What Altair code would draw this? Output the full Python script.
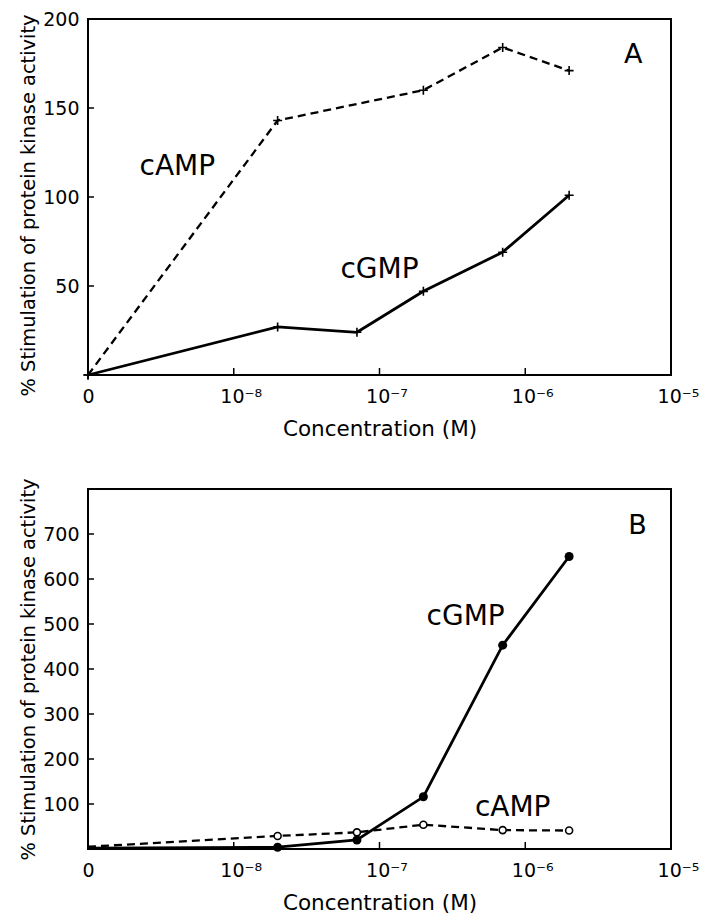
import altair as alt
import pandas as pd

FONT = "DejaVu Sans"

# ---- data ----
conc_all = [0, 2e-8, 7e-8, 2e-7, 7e-7, 2e-6]          # M
a_camp_conc = [0, 2e-8, 2e-7, 7e-7, 2e-6]
a_camp = [0, 143, 160, 184, 171]                     # panel A, cAMP
a_cgmp = [0, 27, 24, 47, 69, 101]                    # panel A, cGMP
b_cgmp = [2, 4, 20, 116, 453, 650]                   # panel B, cGMP
b_camp = [5, 29, 37, 54, 42, 41]                     # panel B, cAMP

x_tick_values = [1e-9, 1e-8, 1e-7, 1e-6, 1e-5]
x_tick_labels = ["0", "10\u207b\u2078", "10\u207b\u2077", "10\u207b\u2076", "10\u207b\u2075"]
a_y_ticks = [50, 100, 150, 200]
b_y_ticks = [100, 200, 300, 400, 500, 600, 700]

a_notes = pd.DataFrame({"label": ["cAMP", "cGMP", "A"],
                        "conc": [4.1e-9, 1.0e-7, 5.5e-6],
                        "val": [117, 59, 180],
                        "size": [28, 28, 27]})
b_notes = pd.DataFrame({"label": ["cGMP", "cAMP", "B"],
                        "conc": [3.9e-7, 8.2e-7, 5.9e-6],
                        "val": [515, 91, 718],
                        "size": [28, 28, 27]})

W = 583
HA = 356
HB = 360

label_expr = "%s[round(log(datum.value)/LN10) + 9]" % str(x_tick_labels).replace("'", '"')
XSCALE = alt.Scale(type="log", domain=[1e-9, 1e-5], nice=False)


def xenc():
    return alt.X(
        "xp:Q",
        scale=XSCALE,
        axis=alt.Axis(values=x_tick_values, labelExpr=label_expr, title="Concentration (M)",
                      grid=False, ticks=False, domain=False, labelPadding=12,
                      labelFontSize=19, titleFontSize=21.5, titleFontWeight="normal",
                      titlePadding=12, labelColor="black", titleColor="black",
                      labelFont=FONT, titleFont=FONT, labelFlush=False,
                      labelOffset={"condition": {"test": "datum.value < 2e-9", "value": 0}, "value": 7}),
    )


def yenc(domain, ticks, title_y):
    return alt.Y(
        "val:Q",
        scale=alt.Scale(domain=domain, nice=False, zero=True),
        axis=alt.Axis(values=ticks, title="% Stimulation of protein kinase activity",
                      grid=False, ticks=False, domain=False, labelPadding=9,
                      labelFontSize=19, titleFontSize=19.4, titleFontWeight="normal",
                      titlePadding=4, labelColor="black", titleColor="black",
                      labelFont=FONT, titleFont=FONT, titleY=title_y),
    )


def series(conc, vals):
    return pd.DataFrame({"conc": conc, "val": vals})


def with_xp(chart):
    return chart.transform_calculate(xp="datum.conc == 0 ? 1e-9 : datum.conc")


def tick_layers(ydomain, yticks, H):
    xt = pd.DataFrame({"conc": [1e-8, 1e-7, 1e-6]})
    yt = pd.DataFrame({"val": yticks})
    xr = with_xp(alt.Chart(xt).mark_rule(color="black", strokeWidth=1.5)).encode(
        x=alt.X("xp:Q", scale=XSCALE),
        y=alt.value(H), y2=alt.value(H - 7))
    yr = alt.Chart(yt).mark_rule(color="black", strokeWidth=1.5).encode(
        y=alt.Y("val:Q", scale=alt.Scale(domain=ydomain, nice=False)),
        x=alt.value(0), x2=alt.value(6))
    return [xr, yr]


def notes_layer(df, ydomain):
    return with_xp(alt.Chart(df).mark_text(font=FONT, color="black", align="center",
                                           baseline="middle")).encode(
        x=alt.X("xp:Q", scale=XSCALE),
        y=alt.Y("val:Q", scale=alt.Scale(domain=ydomain, nice=False)),
        text="label:N",
        size=alt.Size("size:Q", scale=None, legend=None),
    )


plus = "M-1,0L1,0M0,-1L0,1"

# ---- panel A ----
adom = [0, 200]
a_c = series(a_camp_conc, a_camp)
a_g = series(conc_all, a_cgmp)
ya = lambda: yenc(adom, a_y_ticks, HA / 2 + 8)
a_layers = [
    with_xp(alt.Chart(a_c).mark_line(color="black", strokeWidth=2.3, strokeDash=[8, 5])).encode(
        x=xenc(), y=ya()),
    with_xp(alt.Chart(a_g).mark_line(color="black", strokeWidth=2.8)).encode(
        x=xenc(), y=ya()),
    with_xp(alt.Chart(a_c).mark_point(shape=plus, filled=False, color="black", size=81,
                                      strokeWidth=1.6, opacity=1)).encode(
        x=xenc(), y=ya()),
    with_xp(alt.Chart(a_g).mark_point(shape=plus, filled=False, color="black", size=81,
                                      strokeWidth=1.6, opacity=1)).encode(
        x=xenc(), y=ya()),
] + tick_layers(adom, a_y_ticks, HA) + [notes_layer(a_notes, adom)]

panel_a = alt.layer(*a_layers).properties(width=W, height=HA)

# ---- panel B ----
bdom = [0, 800]
b_g = series(conc_all, b_cgmp)
b_c = series(conc_all, b_camp)
yb = lambda: yenc(bdom, b_y_ticks, HB / 2)
b_layers = [
    with_xp(alt.Chart(b_c).mark_line(color="black", strokeWidth=2.3, strokeDash=[8, 5])).encode(
        x=xenc(), y=yb()),
    with_xp(alt.Chart(b_g).mark_line(color="black", strokeWidth=2.8)).encode(
        x=xenc(), y=yb()),
    with_xp(alt.Chart(b_c).mark_point(shape="circle", filled=True, fill="white", stroke="black",
                                      size=49, strokeWidth=1.6, opacity=1)
            ).transform_filter("datum.conc > 0").encode(x=xenc(), y=yb()),
    with_xp(alt.Chart(b_g).mark_point(shape="circle", filled=True, color="black", size=81,
                                      opacity=1)
            ).transform_filter("datum.conc > 0").encode(x=xenc(), y=yb()),
] + tick_layers(bdom, b_y_ticks, HB) + [notes_layer(b_notes, bdom)]

panel_b = alt.layer(*b_layers).properties(width=W, height=HB)

chart = alt.vconcat(panel_a, panel_b, spacing=35).resolve_scale(
    x="independent", y="independent"
).properties(
    padding={"left": 9, "top": 1, "right": 5, "bottom": 0}
).configure(background="white").configure_view(stroke="black", strokeWidth=2)

chart.save("out.html", embed_options={"renderer": "svg", "actions": False})
